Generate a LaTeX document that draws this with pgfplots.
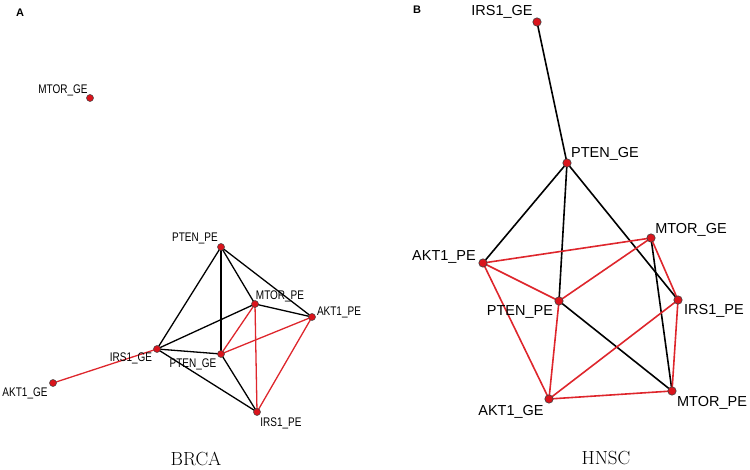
\documentclass[border=0pt]{standalone}
\usepackage{graphicx}
\usepackage{pgfplots}
\pgfplotsset{compat=1.18}
\usepackage{fontspec}
\newfontfamily\sansf{Liberation Sans}
\definecolor{nodered}{RGB}{218,20,28}
\definecolor{edgered}{RGB}{222,38,44}
\newcommand{\edge}[5]{\addplot[#1] coordinates {(#2,#3) (#4,#5)};}
\newcommand{\lblA}[3]{\node[anchor=base,inner sep=0pt] at (axis cs:#1,#2) {\fontsize{12.5}{12.5}\sansf\scalebox{0.8}[1]{#3}};}
\newcommand{\lblB}[3]{\node[anchor=base,inner sep=0pt] at (axis cs:#1,#2) {\fontsize{14.5}{14.5}\sansf #3};}
\begin{document}
\begin{tikzpicture}
\begin{axis}[x=1pt,y=1pt,y dir=reverse,xmin=0,xmax=750,ymin=0,ymax=470,
  hide axis,clip=false,scale only axis]
\path (rel axis cs:0,0) rectangle (rel axis cs:1,1);
% ---- Panel A (BRCA) edges
\pgfplotsset{ea/.style={black,line width=1.3pt},ear/.style={edgered,line width=1.3pt}}
\edge{ea}{221}{247}{157}{349}
\edge{ea}{221}{247}{221}{354}
\edge{ea}{221}{247}{255}{304}
\edge{ea}{221}{247}{312}{317}
\edge{ea}{255}{304}{312}{317}
\edge{ea}{157}{349}{255}{304}
\edge{ea}{157}{349}{221}{354}
\edge{ea}{157}{349}{257}{412}
\edge{ea}{221}{354}{257}{412}
\edge{ear}{53}{383}{157}{349}
\edge{ear}{221}{354}{255}{304}
\edge{ear}{221}{354}{312}{317}
\edge{ear}{255}{304}{257}{412}
\edge{ear}{312}{317}{257}{412}
\addplot[only marks,mark=*,mark size=3.5pt,mark options={fill=nodered,draw=black!75,line width=0.5pt}] coordinates {
(90,98) (221,247) (255,304) (312,317) (157,349) (221,354) (53,383) (257,412)};
% ---- Panel B (HNSC) edges
\pgfplotsset{eb/.style={black,line width=1.6pt},ebr/.style={edgered,line width=1.6pt}}
\edge{eb}{537}{22}{567}{163}
\edge{eb}{567}{163}{483}{263}
\edge{eb}{567}{163}{559}{301}
\edge{eb}{567}{163}{678}{300}
\edge{eb}{651}{238}{672}{391}
\edge{eb}{559}{301}{672}{391}
\edge{ebr}{483}{263}{651}{238}
\edge{ebr}{483}{263}{559}{301}
\edge{ebr}{483}{263}{549}{399}
\edge{ebr}{559}{301}{651}{238}
\edge{ebr}{559}{301}{549}{399}
\edge{ebr}{651}{238}{678}{300}
\edge{ebr}{678}{300}{549}{399}
\edge{ebr}{678}{300}{672}{391}
\edge{ebr}{549}{399}{672}{391}
\addplot[only marks,mark=*,mark size=4.2pt,mark options={fill=nodered,draw=black!75,line width=0.6pt}] coordinates {
(537,22) (567,163) (651,238) (483,263) (559,301) (678,300) (672,391) (549,399)};
% ---- labels A
\lblA{63}{93.5}{MTOR\_GE}
\lblA{195}{241.5}{PTEN\_PE}
\lblA{280}{299.5}{MTOR\_PE}
\lblA{339}{315.5}{AKT1\_PE}
\lblA{131}{361.5}{IRS1\_GE}
\lblA{193}{367.5}{PTEN\_GE}
\lblA{25}{396.5}{AKT1\_GE}
\lblA{281}{426.5}{IRS1\_PE}
% ---- labels B
\lblB{502}{15.5}{IRS1\_GE}
\lblB{605}{157.5}{PTEN\_GE}
\lblB{691}{233.5}{MTOR\_GE}
\lblB{444}{260.5}{AKT1\_PE}
\lblB{520}{315.5}{PTEN\_PE}
\lblB{714}{314.5}{IRS1\_PE}
\lblB{712}{406.5}{MTOR\_PE}
\lblB{511}{415.5}{AKT1\_GE}
% ---- titles
\node[anchor=base,inner sep=0pt] at (axis cs:196,465) {\fontsize{19}{19}\selectfont BRCA};
\node[anchor=base,inner sep=0pt] at (axis cs:606,464.5) {\fontsize{19}{19}\selectfont HNSC};
\node[anchor=base,inner sep=0pt] at (axis cs:20,17) {\fontsize{11}{11}\sansf\bfseries A};
\node[anchor=base,inner sep=0pt] at (axis cs:417,14) {\fontsize{11}{11}\sansf\bfseries B};
\end{axis}
\end{tikzpicture}
\end{document}
